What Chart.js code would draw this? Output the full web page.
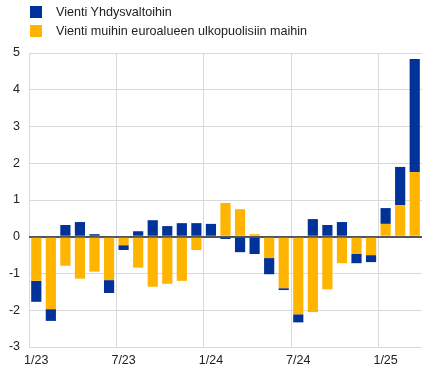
<!DOCTYPE html>
<html lang="fi">
<head>
  <meta charset="UTF-8">
  <title>Vienti</title>
  <style>
    body {
      margin: 0;
      padding: 0;
      background: #fff;
      font-family: Arial, "Liberation Sans", sans-serif;
    }
    .wrap {
      position: relative;
      width: 432px;
      height: 373px;
    }
    .legend {
      position: absolute;
      left: 30px;
      top: 2px;
      font-size: 12.6px;
      color: #222;
    }
    .legend div {
      display: flex;
      align-items: center;
      height: 19px;
    }
    .legend span {
      display: inline-block;
      width: 12px;
      height: 12px;
      margin-right: 14px;
    }
  </style>
  <script src="https://cdn.jsdelivr.net/npm/chart.js"></script>
</head>
<body>
  <div class="wrap">
    <canvas id="chart" width="432" height="373"></canvas>
    <div class="legend">
      <div><span style="background:#003299"></span>Vienti Yhdysvaltoihin</div>
      <div><span style="background:#ffb400"></span>Vienti muihin euroalueen ulkopuolisiin maihin</div>
    </div>
  </div>

  <script>
    const months = ['1/23','2/23','3/23','4/23','5/23','6/23','7/23','8/23','9/23','10/23','11/23','12/23',
                    '1/24','2/24','3/24','4/24','5/24','6/24','7/24','8/24','9/24','10/24','11/24','12/24',
                    '1/25','2/25','3/25'];
    const usExports = [-0.57, -0.32, 0.32, 0.40, 0.07, -0.35, -0.13, 0.15, 0.45, 0.29, 0.37, 0.37,
                       0.35, -0.06, -0.42, -0.47, -0.44, -0.05, -0.22, 0.48, 0.32, 0.40, -0.25, -0.19,
                       0.43, 1.04, 3.08];
    const otherExports = [-1.20, -1.97, -0.79, -1.14, -0.95, -1.18, -0.23, -0.84, -1.36, -1.28, -1.20, -0.36,
                          0, 0.92, 0.75, 0.07, -0.58, -1.40, -2.11, -2.05, -1.43, -0.72, -0.47, -0.50,
                          0.35, 0.86, 1.76];
    const yTicks = [-3, -2, -1, 0, 1, 2, 3, 4, 5];

    const ctx = document.getElementById('chart').getContext('2d');
    new Chart(ctx, {
      type: 'bar',
      data: {
        labels: months,
        datasets: [
          // yellow first so it stacks next to zero
          { label: 'Vienti muihin euroalueen ulkopuolisiin maihin', data: otherExports, backgroundColor: '#ffb400' },
          { label: 'Vienti Yhdysvaltoihin', data: usExports, backgroundColor: '#003299' }
        ]
      },
      options: {
        responsive: false,
        animation: false,
        layout: { padding: { top: 53, right: 10, left: 0, bottom: 0 } },
        datasets: { bar: { barPercentage: 0.7, categoryPercentage: 1 } },
        plugins: { legend: { display: false }, tooltip: { enabled: false } },
        scales: {
          x: {
            stacked: true,
            border: { display: false },
            grid: {
              offset: true,
              drawTicks: false,
              color: c => (c.index % 6 === 0 ? '#d9d9d9' : 'transparent'),
              lineWidth: 1
            },
            ticks: {
              autoSkip: false,
              maxRotation: 0,
              padding: 6,
              color: '#222',
              font: { family: 'Arial, "Liberation Sans"', size: 12.5 },
              callback: function (v, i) {
                const m = months[i].split('/')[0];
                return (m === '1' || m === '7') ? months[i] : '';
              }
            },
            afterFit: s => { s.height = 26; }
          },
          y: {
            stacked: true,
            min: -3,
            max: 5,
            border: { display: false },
            grid: {
              drawTicks: false,
              color: c => (c.tick && c.tick.value === 0 ? '#555555' : '#d9d9d9'),
              lineWidth: c => (c.tick && c.tick.value === 0 ? 2 : 1)
            },
            afterBuildTicks: s => { s.ticks = yTicks.map(v => ({ value: v })); },
            ticks: {
              padding: 9,
              color: '#222',
              font: { family: 'Arial, "Liberation Sans"', size: 12.5 }
            },
            afterFit: s => { s.width = 29; }
          }
        }
      }
    });
  </script>
</body>
</html>
